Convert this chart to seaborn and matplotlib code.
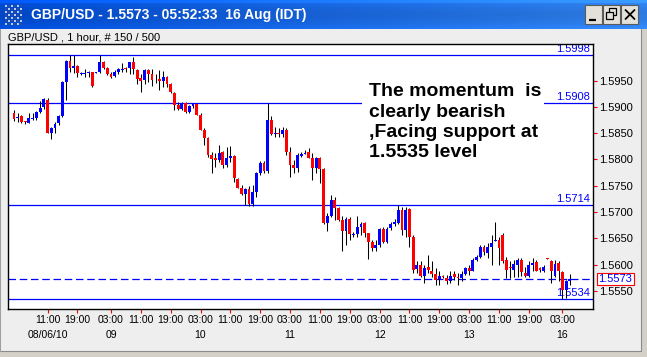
import numpy as np
import matplotlib
matplotlib.use("Agg")
import matplotlib.pyplot as plt
import matplotlib.transforms as mtransforms
from matplotlib.patches import Rectangle
import seaborn as sns

# ---------------- data (hourly GBP/USD candles) ----------------
opens = [1.5889, 1.5878, 1.5883, 1.5873, 1.5870, 1.5877, 1.5879, 1.5890, 1.5899, 1.5913,
         1.5851, 1.5859, 1.5869, 1.5883, 1.5947, 1.5987, 1.5974, 1.5978, 1.5963, 1.5963,
         1.5964, 1.5966, 1.5965, 1.5966, 1.5985, 1.5973, 1.5962, 1.5959, 1.5967, 1.5970,
         1.5974, 1.5973, 1.5986, 1.5970, 1.5954, 1.5951, 1.5970, 1.5962, 1.5952, 1.5953,
         1.5950, 1.5956, 1.5943, 1.5927, 1.5903, 1.5896, 1.5908, 1.5890, 1.5902, 1.5905,
         1.5885, 1.5856, 1.5840, 1.5808, 1.5803, 1.5798, 1.5814, 1.5790, 1.5803, 1.5807,
         1.5762, 1.5745, 1.5734, 1.5743, 1.5715, 1.5738, 1.5774, 1.5794, 1.5778, 1.5875,
         1.5848, 1.5851, 1.5848, 1.5856, 1.5815, 1.5790, 1.5784, 1.5807, 1.5811, 1.5815,
         1.5802, 1.5783, 1.5802, 1.5782, 1.5680, 1.5693, 1.5723, 1.5707, 1.5684, 1.5663,
         1.5686, 1.5656, 1.5658, 1.5672, 1.5679, 1.5660, 1.5643, 1.5631, 1.5637, 1.5667,
         1.5643, 1.5669, 1.5677, 1.5679, 1.5704, 1.5666, 1.5705, 1.5653, 1.5592, 1.5600,
         1.5579, 1.5596, 1.5588, 1.5582, 1.5572, 1.5579, 1.5574, 1.5568, 1.5582, 1.5577,
         1.5575, 1.5582, 1.5594, 1.5588, 1.5609, 1.5615, 1.5634, 1.5622, 1.5633, 1.5644,
         1.5647, 1.5657, 1.5609, 1.5595, 1.5590, 1.5600, 1.5609, 1.5584, 1.5578, 1.5600,
         1.5604, 1.5593, 1.5587, 1.5613, 1.5606, 1.5578, 1.5603, 1.5585, 1.5552, 1.5569]
highs = [1.5894, 1.5888, 1.5885, 1.5874, 1.5888, 1.5889, 1.5892, 1.5912, 1.5917, 1.5917,
         1.5862, 1.5872, 1.5885, 1.5949, 1.5989, 1.5998, 1.5998, 1.5980, 1.5967, 1.5972,
         1.5969, 1.5967, 1.5967, 1.5998, 1.5987, 1.5976, 1.5967, 1.5970, 1.5974, 1.5983,
         1.5976, 1.5986, 1.5994, 1.5972, 1.5962, 1.5972, 1.5972, 1.5972, 1.5962, 1.5970,
         1.5969, 1.5959, 1.5945, 1.5929, 1.5910, 1.5910, 1.5910, 1.5903, 1.5905, 1.5905,
         1.5888, 1.5860, 1.5843, 1.5815, 1.5812, 1.5827, 1.5816, 1.5824, 1.5826, 1.5808,
         1.5764, 1.5752, 1.5745, 1.5750, 1.5752, 1.5777, 1.5797, 1.5797, 1.5908, 1.5883,
         1.5861, 1.5860, 1.5861, 1.5860, 1.5824, 1.5799, 1.5812, 1.5815, 1.5818, 1.5822,
         1.5812, 1.5805, 1.5805, 1.5784, 1.5698, 1.5733, 1.5729, 1.5710, 1.5693, 1.5691,
         1.5691, 1.5662, 1.5693, 1.5681, 1.5681, 1.5660, 1.5647, 1.5647, 1.5669, 1.5672,
         1.5672, 1.5681, 1.5687, 1.5714, 1.5710, 1.5710, 1.5707, 1.5657, 1.5606, 1.5606,
         1.5600, 1.5619, 1.5606, 1.5593, 1.5587, 1.5581, 1.5581, 1.5587, 1.5587, 1.5584,
         1.5587, 1.5596, 1.5600, 1.5613, 1.5619, 1.5638, 1.5638, 1.5641, 1.5657, 1.5681,
         1.5653, 1.5660, 1.5615, 1.5606, 1.5609, 1.5612, 1.5612, 1.5596, 1.5606, 1.5612,
         1.5609, 1.5596, 1.5600, 1.5613, 1.5609, 1.5609, 1.5606, 1.5587, 1.5571, 1.5582]
lows = [1.5874, 1.5872, 1.5869, 1.5867, 1.5869, 1.5875, 1.5875, 1.5888, 1.5895, 1.5850,
        1.5839, 1.5851, 1.5866, 1.5881, 1.5913, 1.5966, 1.5964, 1.5957, 1.5961, 1.5957,
        1.5957, 1.5938, 1.5964, 1.5964, 1.5972, 1.5961, 1.5954, 1.5957, 1.5962, 1.5966,
        1.5967, 1.5962, 1.5962, 1.5943, 1.5929, 1.5943, 1.5948, 1.5940, 1.5945, 1.5932,
        1.5938, 1.5938, 1.5926, 1.5894, 1.5894, 1.5894, 1.5888, 1.5888, 1.5897, 1.5884,
        1.5855, 1.5827, 1.5805, 1.5774, 1.5786, 1.5796, 1.5784, 1.5786, 1.5796, 1.5758,
        1.5745, 1.5732, 1.5714, 1.5711, 1.5712, 1.5729, 1.5771, 1.5775, 1.5774, 1.5847,
        1.5843, 1.5843, 1.5843, 1.5808, 1.5767, 1.5774, 1.5777, 1.5805, 1.5810, 1.5802,
        1.5761, 1.5774, 1.5755, 1.5678, 1.5664, 1.5691, 1.5685, 1.5682, 1.5626, 1.5638,
        1.5647, 1.5653, 1.5653, 1.5656, 1.5653, 1.5611, 1.5625, 1.5625, 1.5634, 1.5641,
        1.5641, 1.5666, 1.5674, 1.5677, 1.5657, 1.5653, 1.5634, 1.5584, 1.5584, 1.5577,
        1.5565, 1.5584, 1.5577, 1.5561, 1.5561, 1.5574, 1.5563, 1.5565, 1.5571, 1.5561,
        1.5569, 1.5581, 1.5581, 1.5587, 1.5606, 1.5612, 1.5619, 1.5612, 1.5600, 1.5644,
        1.5600, 1.5603, 1.5574, 1.5574, 1.5577, 1.5577, 1.5579, 1.5577, 1.5577, 1.5587,
        1.5587, 1.5585, 1.5585, 1.5610, 1.5565, 1.5577, 1.5568, 1.5534, 1.5536, 1.5562]
closes = [1.5877, 1.5881, 1.5872, 1.5872, 1.5878, 1.5878, 1.5890, 1.5898, 1.5915, 1.5851,
          1.5860, 1.5867, 1.5883, 1.5947, 1.5987, 1.5974, 1.5978, 1.5964, 1.5964, 1.5964,
          1.5966, 1.5940, 1.5966, 1.5985, 1.5974, 1.5962, 1.5957, 1.5967, 1.5971, 1.5971,
          1.5971, 1.5986, 1.5972, 1.5953, 1.5950, 1.5970, 1.5962, 1.5951, 1.5953, 1.5950,
          1.5956, 1.5943, 1.5928, 1.5903, 1.5896, 1.5908, 1.5890, 1.5902, 1.5905, 1.5885,
          1.5856, 1.5840, 1.5808, 1.5801, 1.5798, 1.5812, 1.5790, 1.5803, 1.5807, 1.5764,
          1.5746, 1.5734, 1.5743, 1.5715, 1.5738, 1.5774, 1.5794, 1.5778, 1.5875, 1.5848,
          1.5851, 1.5848, 1.5856, 1.5815, 1.5790, 1.5784, 1.5808, 1.5810, 1.5812, 1.5802,
          1.5783, 1.5802, 1.5782, 1.5680, 1.5693, 1.5723, 1.5707, 1.5684, 1.5663, 1.5686,
          1.5658, 1.5658, 1.5671, 1.5677, 1.5660, 1.5643, 1.5631, 1.5637, 1.5667, 1.5643,
          1.5667, 1.5677, 1.5681, 1.5704, 1.5666, 1.5704, 1.5653, 1.5590, 1.5600, 1.5579,
          1.5594, 1.5590, 1.5582, 1.5571, 1.5579, 1.5577, 1.5568, 1.5579, 1.5577, 1.5575,
          1.5582, 1.5594, 1.5588, 1.5609, 1.5615, 1.5634, 1.5624, 1.5633, 1.5641, 1.5647,
          1.5631, 1.5606, 1.5590, 1.5593, 1.5601, 1.5609, 1.5585, 1.5578, 1.5600, 1.5603,
          1.5588, 1.5590, 1.5596, 1.5610, 1.5588, 1.5601, 1.5588, 1.5552, 1.5569, 1.5573]

level_lines = [1.5998, 1.5908, 1.5714, 1.5534]
level_labels = ["1.5998", "1.5908", "1.5714", "1.5534"]
last_price = 1.5573
last_label = "1.5573"

y_ticks = [1.5550, 1.5600, 1.5650, 1.5700, 1.5750, 1.5800, 1.5850, 1.5900, 1.5950]
y_tick_labels = ["1.5550", "1.5600", "1.5650", "1.5700", "1.5750", "1.5800", "1.5850", "1.5900", "1.5950"]
x_tick_pos = [9, 17, 26, 34, 42, 50, 58, 66, 74, 82, 90, 98, 106, 114, 122, 130, 138, 147]
x_tick_times = ["11:00", "19:00", "03:00", "11:00", "19:00", "03:00", "11:00", "19:00", "03:00",
                "11:00", "19:00", "03:00", "11:00", "19:00", "03:00", "11:00", "19:00", "03:00"]
x_tick_dates = ["08/06/10", "", "09", "", "", "10", "", "", "11",
                "", "", "12", "", "", "13", "", "", "16"]

title_text = "GBP/USD - 1.5573 - 05:52:33  16 Aug (IDT)"
subtitle_text = "GBP/USD , 1 hour, # 150 / 500"
note_text = "The momentum  is\nclearly bearish\n,Facing support at\n1.5535 level"

# ---------------- style ----------------
sns.set_theme(style="white")
plt.rcParams['font.family'] = ['Liberation Sans', 'DejaVu Sans']

W, H = 647, 357
fig = plt.figure(figsize=(W / 100, H / 100), dpi=100)
fig.patch.set_facecolor('#EEEEEE')
px = mtransforms.Affine2D().scale(1 / W, -1 / H).translate(0, 1) + fig.transFigure

# background / window chrome axes
bg = fig.add_axes([0, 0, 1, 1], zorder=0)
bg.set_axis_off()
grad_x = np.linspace(0, 1, 200)
grad_y = np.linspace(0, 1, 29)
c_left = np.array([0, 80, 226]) / 255
c_right = np.array([52, 140, 255]) / 255
img = np.zeros((29, 200, 3))
for j, gy in enumerate(grad_y):
    shade = 1.0 - 0.12 * np.sin(np.pi * gy) if gy > 0.1 else 1.12
    for k, gx in enumerate(grad_x):
        img[j, k] = np.clip((c_left * (1 - gx) + c_right * gx) * shade, 0, 1)
bg.imshow(img, extent=[0, W, 29, 0], aspect='auto', interpolation='bilinear')

# icon dot grid
for iy in range(7):
    for ix in range(6):
        bg.add_patch(Rectangle((5 + ix * 3, 5 + iy * 3), 1.6, 1.6,
                               fc='#B8CCF0' if (ix + iy) % 2 == 0 else '#2C4C9C', ec='none'))

bg.text(31, 15, title_text, color='white', fontsize=10, fontweight='bold',
        va='center', ha='left')

# buttons
for bx in (585, 603, 621):
    bg.add_patch(Rectangle((bx, 5), 17, 19, fc='#E4E1DA', ec='#5A5A5A', lw=0.8))
bg.plot([589, 596], [20, 20], color='black', lw=1.6, solid_capstyle='butt')
bg.add_patch(Rectangle((609, 8), 7, 7, fc='none', ec='black', lw=0.9))
bg.add_patch(Rectangle((606, 12), 7, 7, fc='#E4E1DA', ec='black', lw=0.9))
bg.plot([625.5, 634.5], [10, 19], color='black', lw=1.3)
bg.plot([625.5, 634.5], [19, 10], color='black', lw=1.3)

bg.text(8, 37, subtitle_text, color='black', fontsize=8, va='center', ha='left')

# right & bottom window frame
bg.add_patch(Rectangle((640.5, 29), 6.5, 328, fc='#D4D0C8', ec='none'))
bg.plot([640.8, 640.8], [29, 351], color='#8A8A8A', lw=0.8)
bg.add_patch(Rectangle((0, 350.5), 647, 6.5, fc='#D4D0C8', ec='none'))
bg.plot([0, 641], [350.8, 350.8], color='#8A8A8A', lw=0.8)
bg.plot([0.4, 0.4], [29, 351], color='#A0A0A0', lw=0.8)

# current price box
bg.add_patch(Rectangle((597, 273), 37, 11.5, fc='white', ec='#FF0000', lw=0.8))
bg.text(615.5, 279, last_label, color='#0000FF', fontsize=8, va='center', ha='center')

bg.set_xlim(0, W)
bg.set_ylim(H, 0)

# ---------------- price chart ----------------
ax = fig.add_axes([8 / W, (H - 309) / H, (593 - 8) / W, (309 - 44) / H], zorder=1)
ax.set_facecolor('white')

o = np.array(opens); h = np.array(highs); l = np.array(lows); c = np.array(closes)
x = np.arange(len(o))
up = c >= o
colors = np.where(up, '#0000FF', '#FF0000')
ax.vlines(x, l, h, color='black', lw=0.75, zorder=3)
bottoms = np.minimum(o, c)
heights = np.maximum(np.abs(c - o), 0.00016)
ax.bar(x, heights, bottom=bottoms, width=0.76, color=colors, lw=0, zorder=4)

lab_trans = mtransforms.offset_copy(
    mtransforms.blended_transform_factory(ax.transAxes, ax.transData), fig=fig, x=-2, y=0.8, units='points')
for v, s in zip(level_lines, level_labels):
    ax.axhline(v, color='#0000FF', lw=0.9, zorder=2)
    ax.text(1.0, v, s, transform=lab_trans, color='#0000FF', fontsize=8,
            ha='right', va='bottom', zorder=2.5)
ax.axhline(last_price, color='#0000FF', lw=0.9, ls=(0, (6, 3)), zorder=2)

# annotation with white box covering the line
ax.add_patch(Rectangle((362, 78), 182, 92, transform=px, fc='white', ec='none', zorder=5))
ax.text(369, 83.5, note_text, transform=px, fontsize=14, fontweight='bold', color='black',
        ha='left', va='top', linespacing=1.25, zorder=6)

ax.set_xlim(-1.6, 155.2)
ax.set_ylim(1.551556, 1.601949)

ax.yaxis.tick_right()
ax.set_yticks(y_ticks)
ax.set_yticklabels(y_tick_labels)
ax.set_xticks(x_tick_pos)
ax.set_xticklabels(x_tick_times)
ax.tick_params(axis='both', which='major', color='#FF0000', labelcolor='black', length=3,
               width=0.8, pad=1.2)
ax.tick_params(axis='y', left=False, right=True, labelsize=8)
ax.tick_params(axis='x', bottom=True, labelsize=7.5)

# date row under the time labels
date_trans = mtransforms.blended_transform_factory(ax.transData, px)
for xp, d in zip(x_tick_pos, x_tick_dates):
    if d:
        ax.text(xp, 335, d, transform=date_trans, fontsize=7.5, color='black',
                ha='center', va='center', clip_on=False)

for sp in ax.spines.values():
    sp.set_color('black')
    sp.set_linewidth(1.0)
    sp.set_visible(True)
ax.grid(False)

fig.savefig('out.png', dpi=100, facecolor=fig.get_facecolor())
